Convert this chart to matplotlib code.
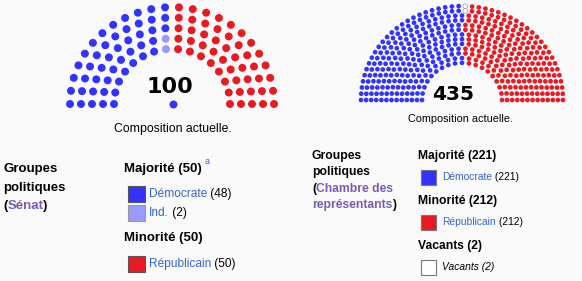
import numpy as np
import matplotlib
matplotlib.use("Agg")
import matplotlib.pyplot as plt
from matplotlib.patches import Rectangle

# Senate data
senate_rows = [16, 18, 20, 22, 24]
senate_parties = ["Démocrate", "Ind.", "Républicain"]
senate_seats = [48, 2, 50]
senate_colors = ["#3333ff", "#9999ff", "#e81b23"]
senate_total = 100

# House data
house_rows = [19, 21, 24, 26, 29, 31, 33, 36, 38, 41, 43, 46, 48]
house_parties = ["Démocrate", "Vacants", "Républicain"]
house_seats = [221, 2, 212]
house_colors = ["#3333ff", "#ffffff", "#e81b23"]
house_total = 435

LINK = "#3366cc"
VISITED = "#795cb2"
FONT = "Liberation Sans"

fig = plt.figure(figsize=(5.82, 2.81), dpi=100)
fig.patch.set_facecolor("#fafafa")
ax = fig.add_axes([0, 0, 1, 1])
ax.set_xlim(0, 582)
ax.set_ylim(281, 0)
ax.axis("off")


def seat_xy(rows, r_in, r_out, cx, cy, sy):
    radii = np.linspace(r_in, r_out, len(rows))
    xs, ys, angs = [], [], []
    for n, r in zip(rows, radii):
        a = np.linspace(np.pi, 0, n)
        xs.extend(cx + r * np.cos(a))
        ys.extend(cy - sy * r * np.sin(a))
        angs.extend(a)
    return np.array(xs), np.array(ys), np.array(angs)


def seat_colors(seats, colors):
    out = []
    for s, c in zip(seats, colors):
        out += [c] * s
    return out


# senate arc, ordered left to right
sx, sy_, sa = seat_xy(senate_rows, 58, 102, 172, 104, 0.95)
order = np.argsort(sx)
ax.scatter(sx[order], sy_[order], s=33, c=seat_colors(senate_seats, senate_colors),
           linewidths=0, zorder=2)
ax.scatter([173], [104], s=33, c=senate_colors[0], linewidths=0, zorder=2)
ax.text(170, 87, str(senate_total), fontsize=16, fontweight="bold",
        family="DejaVu Sans", ha="center", va="center")
ax.text(173, 129, "Composition actuelle.", fontsize=8.8, family=FONT,
        ha="center", va="center")

# house arc
hx, hy, ha_ = seat_xy(house_rows, 40, 101, 462, 100, 0.93)
order = np.argsort(-ha_, kind="stable")
hc = seat_colors(house_seats, house_colors)
edges = ["#999999" if c == "#ffffff" else "none" for c in hc]
ax.scatter(hx[order], hy[order], s=11.5, c=hc, edgecolors=edges, linewidths=0.5,
           zorder=2)
ax.text(453, 95, str(house_total), fontsize=14.5, fontweight="bold",
        family="DejaVu Sans", ha="center", va="center")
ax.text(461, 119, "Composition actuelle.", fontsize=7.8, family=FONT,
        ha="center", va="center")


def chain(x, y, parts, size):
    # parts: list of (text, color, weight, style)
    t = None
    for txt, col, w, st in parts:
        kw = dict(fontsize=size, family=FONT, color=col, fontweight=w,
                  fontstyle=st, va="center")
        if t is None:
            t = ax.text(x, y, txt, ha="left", **kw)
        else:
            t = ax.annotate(txt, xy=(1, 0.5), xycoords=t, ha="left", **kw)
    return t


def swatch(x, y, w, color, edge):
    ax.add_patch(Rectangle((x, y), w, w, facecolor=color, edgecolor=edge,
                           linewidth=0.8, zorder=2))


# Senate legend
bs = 9.5
chain(3, 169, [("Groupes", "black", "bold", "normal")], bs)
chain(3, 188, [("politiques", "black", "bold", "normal")], bs)
chain(3, 206, [("(", "black", "bold", "normal"), ("Sénat", VISITED, "bold", "normal"),
               (")", "black", "bold", "normal")], bs)
chain(124, 169, [("Majorité (50)", "black", "bold", "normal")], bs)
ax.text(205, 161, "a", fontsize=6.5, family=FONT, color=LINK, ha="left", va="center")
chain(124, 238, [("Minorité (50)", "black", "bold", "normal")], bs)
leg_y = [194, 213, 264]
edge_s = ["#555555", "#999999", "#555555"]
for name, n, col, y, e in zip(senate_parties, senate_seats, senate_colors, leg_y, edge_s):
    swatch(128, y - 8.5, 16.5, col, e)
    chain(149, y, [(name, LINK, "normal", "normal"), (f" ({n})", "black", "normal", "normal")], 8.6)

# House legend
bh = 8.7
chain(312, 156, [("Groupes", "black", "bold", "normal")], bh)
chain(312, 172, [("politiques", "black", "bold", "normal")], bh)
chain(312, 189, [("(", "black", "bold", "normal"), ("Chambre des", VISITED, "bold", "normal")], bh)
chain(312, 205, [("représentants", VISITED, "bold", "normal"), (")", "black", "bold", "normal")], bh)
chain(418, 156, [(f"Majorité ({house_seats[0]})", "black", "bold", "normal")], bh)
chain(418, 201, [(f"Minorité ({house_seats[2]})", "black", "bold", "normal")], bh)
chain(418, 246, [(f"Vacants ({house_seats[1]})", "black", "bold", "normal")], bh)
leg_y = [177, 267, 222]
for name, n, col, y in zip(house_parties, house_seats, house_colors, leg_y):
    swatch(421, y - 7.5, 15, col, "#777777")
    if name == "Vacants":
        chain(442, y, [(f"{name} ({n})", "black", "normal", "italic")], 7.4)
    else:
        chain(442, y, [(name, LINK, "normal", "normal"), (f" ({n})", "black", "normal", "normal")], 7.4)

fig.savefig("out.png", dpi=100, facecolor=fig.get_facecolor())
